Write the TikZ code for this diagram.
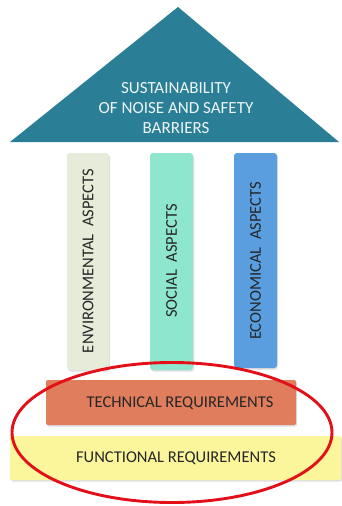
\documentclass[tikz,border=0pt]{standalone}
\usepackage{fontspec}
\setmainfont{Carlito}
\usetikzlibrary{shadows}
\definecolor{roofteal}{HTML}{2A7F96}
\definecolor{envgreen}{HTML}{E6ECD9}
\definecolor{socaqua}{HTML}{8FE6CF}
\definecolor{ecoblue}{HTML}{5A9EDF}
\definecolor{techsalmon}{HTML}{E07D5C}
\definecolor{funcyellow}{HTML}{FBF69C}
\definecolor{ringred}{HTML}{E3101A}
\definecolor{labeldark}{HTML}{262626}
\tikzset{
  x=1pt, y=-1pt,
  pillar/.style={rounded corners=3pt, drop shadow={shadow xshift=1pt, shadow yshift=-1.5pt, opacity=0.25}},
  slab/.style={rounded corners=2pt, drop shadow={shadow xshift=1pt, shadow yshift=-1.5pt, opacity=0.25}},
  caption/.style={font=\fontsize{16.5}{19}\selectfont, text=labeldark, inner sep=0pt},
}
\begin{document}
\begin{tikzpicture}
\useasboundingbox[fill=white] (0,0) rectangle (341,506);

% roof
\fill[roofteal] (10,142) -- (178,7) -- (339,142) -- cycle;
\node[caption, text=white!92!roofteal, align=center, font=\fontsize{17}{20}\selectfont] (roof) at (176,108)
  {SUSTAINABILITY\\OF NOISE AND SAFETY\\BARRIERS};

% pillars
\path[pillar, fill=envgreen] (67,153) rectangle (109,370);
\path[pillar, fill=socaqua] (150,153) rectangle (193,370);
\path[pillar, fill=ecoblue] (234,153) rectangle (277,368);
\node[caption, rotate=90] (env) at (88,261) {ENVIRONMENTAL\ \ ASPECTS};
\node[caption, rotate=90] (soc) at (171.5,261) {SOCIAL\ \ ASPECTS};
\node[caption, rotate=90] (eco) at (255.5,261) {ECONOMICAL\ \ ASPECTS};

% foundation slabs
\path[slab, fill=techsalmon] (46,380) rectangle (296,425);
\node[caption] (tech) at (180,403) {TECHNICAL REQUIREMENTS};
\path[slab, fill=funcyellow] (10,436) rectangle (341,480);
\node[caption] (func) at (176,458) {FUNCTIONAL REQUIREMENTS};

% highlight ring
\draw[ringred, line width=2.9pt] (172,432.5) ellipse [x radius=160, y radius=70];
\end{tikzpicture}
\end{document}
